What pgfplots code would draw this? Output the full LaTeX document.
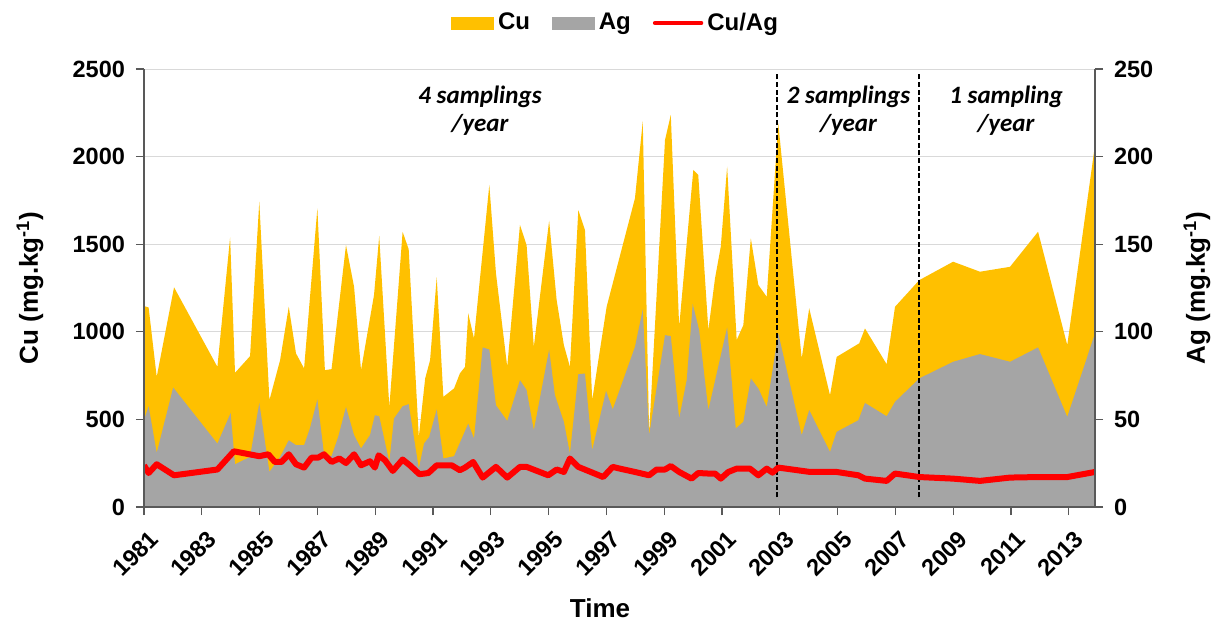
\documentclass[border=0pt]{standalone}
\usepackage{pgfplots}
\pgfplotsset{compat=1.18}
\usepackage{fontspec}
\setmainfont{Liberation Sans}
\newfontfamily\calibri{Carlito}
\definecolor{cuyellow}{HTML}{FFC000}
\definecolor{aggray}{HTML}{A5A5A5}
\definecolor{gridgray}{HTML}{D9D9D9}
\definecolor{axgray}{HTML}{595959}
\definecolor{ratiored}{HTML}{FF0000}

\pgfplotstableread{
year cu
1981.00 1147
1981.16 1139
1981.44 743
1982.04 1254
1983.54 800
1983.98 1539
1984.15 766
1984.67 861
1984.99 1743
1985.34 610
1985.71 838
1986.01 1143
1986.26 877
1986.54 791
1987.00 1705
1987.26 781
1987.49 787
1987.99 1495
1988.27 1257
1988.51 781
1988.96 1210
1989.14 1547
1989.49 571
1989.95 1571
1990.16 1471
1990.51 400
1990.73 734
1990.90 838
1991.13 1311
1991.36 629
1991.73 677
1991.93 762
1992.11 800
1992.22 1105
1992.42 962
1992.95 1838
1993.18 1334
1993.57 800
1994.01 1610
1994.24 1495
1994.49 914
1995.02 1634
1995.28 1181
1995.53 924
1995.74 800
1996.03 1695
1996.26 1581
1996.51 610
1997.01 1143
1997.99 1762
1998.26 2200
1998.48 419
1999.03 2095
1999.23 2238
1999.52 1029
2000.01 1924
2000.18 1895
2000.53 1010
2000.76 1305
2000.96 1486
2001.18 1943
2001.51 953
2001.74 1038
2002.00 1534
2002.26 1267
2002.55 1200
2002.95 2190
2003.76 848
2004.02 1134
2004.74 638
2004.97 857
2005.75 934
2005.95 1019
2006.70 815
2006.99 1143
2007.83 1295
2009.00 1400
2009.93 1343
2010.97 1371
2011.94 1571
2012.95 924
2013.91 2067
}\cutable

\pgfplotstableread{
year ag
1981.00 49.5
1981.16 57.5
1981.44 30.9
1982.01 68.2
1983.54 36.2
1984.00 53.7
1984.15 24.4
1984.67 28.6
1984.99 59.4
1985.34 20.0
1985.71 28.6
1986.01 38.1
1986.26 35.3
1986.54 35.3
1986.74 44.8
1987.00 61.4
1987.23 30.1
1987.49 29.0
1987.72 40.0
1987.99 57.1
1988.27 41.0
1988.51 33.4
1988.82 41.0
1988.99 52.4
1989.14 51.8
1989.49 25.7
1989.65 50.5
1989.95 57.5
1990.16 58.7
1990.51 21.9
1990.69 36.2
1990.87 40.0
1991.13 55.7
1991.36 27.7
1991.73 29.0
1992.22 47.6
1992.42 39.1
1992.72 91.1
1992.95 89.9
1993.18 58.1
1993.57 49.1
1994.01 72.4
1994.24 66.7
1994.49 43.8
1995.02 89.9
1995.22 63.8
1995.53 48.6
1995.74 30.5
1996.03 75.8
1996.26 76.2
1996.51 32.4
1996.99 66.3
1997.22 55.7
1997.99 91.4
1998.26 112.8
1998.48 41.0
1999.03 98.1
1999.23 97.5
1999.52 50.5
1999.78 72.4
1999.99 115.8
2000.21 101.0
2000.53 55.3
2001.18 102.5
2001.48 44.8
2001.74 48.6
2002.00 73.4
2002.26 67.7
2002.55 57.1
2002.95 99.1
2003.76 41.0
2004.02 55.3
2004.74 31.4
2004.97 42.9
2005.72 49.5
2005.95 59.4
2006.70 51.8
2006.99 60.0
2007.83 73.4
2009.00 82.9
2009.93 87.3
2010.97 82.9
2011.94 91.1
2012.95 51.4
2013.91 99.1
}\agtable

\pgfplotstableread{
year ratio
1981.00 23.8
1981.16 19.4
1981.44 24.4
1982.04 18.1
1983.54 21.4
1984.11 31.8
1984.99 29.0
1985.30 30.1
1985.53 25.7
1985.76 25.7
1986.01 30.1
1986.26 24.4
1986.54 22.5
1986.80 28.2
1987.03 28.2
1987.23 30.1
1987.49 25.7
1987.76 27.7
1987.99 25.1
1988.27 30.1
1988.51 23.8
1988.82 26.1
1988.99 22.5
1989.12 29.5
1989.34 26.7
1989.61 20.6
1989.95 27.1
1990.20 23.8
1990.53 18.7
1990.84 19.4
1991.13 23.8
1991.65 23.8
1991.93 21.0
1992.11 22.5
1992.39 25.7
1992.72 16.8
1993.18 22.9
1993.57 16.8
1994.01 22.9
1994.24 22.9
1994.99 18.1
1995.28 21.4
1995.53 20.0
1995.74 27.7
1996.03 22.9
1996.89 17.1
1997.22 22.9
1997.47 21.9
1997.99 20.0
1998.48 18.1
1998.74 21.4
1999.03 21.4
1999.23 23.4
1999.52 20.0
1999.95 16.2
2000.18 19.4
2000.53 19.1
2000.76 19.1
2000.96 16.2
2001.22 20.0
2001.51 21.9
2001.97 21.9
2002.26 18.1
2002.55 21.9
2002.75 19.6
2002.95 22.5
2004.05 20.0
2004.97 20.0
2005.72 18.1
2005.95 16.2
2006.70 14.9
2006.99 19.1
2007.83 17.1
2009.00 16.2
2009.93 14.9
2010.97 16.8
2011.94 17.1
2012.95 17.1
2013.91 20.0
}\ratiotable

\pgfplotsset{
  common/.style={
    scale only axis, width=475.5pt, height=219pt,
    at={(0pt,0pt)}, anchor=south west,
    xmin=1981, xmax=2013.91,
    tick align=outside, major tick length=4pt,
    tick style={axgray, line width=0.6pt},
    axis line style={axgray, line width=0.6pt},
    ticklabel style={font=\fontsize{11.75}{14}\selectfont\bfseries},
    /pgf/number format/assume math mode=true,
    /pgf/number format/1000 sep={},
  }
}

\begin{document}
\begin{tikzpicture}
\useasboundingbox (-72pt,-58pt) rectangle (535.5pt,253.5pt);

\begin{axis}[common,
  axis x line*=bottom, axis y line*=left,
  ymin=0, ymax=2500, ytick={0,500,...,2500},
  xtick={1981,1983,...,2013},
  xticklabel style={rotate=45, anchor=north east, yshift=-3pt},
  yticklabel style={xshift=-2pt},
  ymajorgrids, grid style={gridgray, line width=0.5pt},
]
\addplot[fill=cuyellow, draw=none] table[x=year, y=cu] {\cutable} \closedcycle;
\end{axis}

\begin{axis}[common,
  axis on top,
  axis x line*=bottom, axis y line*=box, ytick pos=right,
  xtick=\empty,
  ymin=0, ymax=250, ytick={0,50,...,250},
  yticklabel style={xshift=2pt},
  legend columns=3,
  legend style={draw=none, fill=none, at={(0.497,1.105)}, anchor=center,
    font=\fontsize{12}{14}\selectfont\bfseries,
    /tikz/every even column/.append style={column sep=9pt}},
]
\addlegendimage{legend image code/.code={\fill[cuyellow] (0pt,-3pt) rectangle (21pt,3pt);}}
\addlegendentry{Cu}
\addlegendimage{legend image code/.code={\fill[aggray] (0pt,-3pt) rectangle (21pt,3pt);}}
\addlegendentry{Ag}
\addlegendimage{legend image code/.code={\draw[ratiored, line width=2.2pt, line cap=round] (0pt,0pt) -- (23pt,0pt);}}
\addlegendentry{Cu/Ag}
\addplot[fill=aggray, draw=none, forget plot] table[x=year, y=ag] {\agtable} \closedcycle;
\addplot[black, line width=1pt, dash pattern=on 2.5pt off 1.3pt, forget plot] coordinates {(2002.92,5.5) (2002.92,247.5)};
\addplot[black, line width=1pt, dash pattern=on 2.5pt off 1.3pt, forget plot] coordinates {(2007.83,5.5) (2007.83,247.5)};
\addplot[ratiored, line width=3pt, line join=round, forget plot] table[x=year, y=ratio] {\ratiotable};
\end{axis}

\node[font=\calibri\bfseries\itshape\fontsize{12.5}{14}\selectfont, align=center] at (168pt,198pt) {4 samplings\\/year};
\node[font=\calibri\bfseries\itshape\fontsize{12.5}{14}\selectfont, align=center] at (352.25pt,198pt) {2 samplings\\/year};
\node[font=\calibri\bfseries\itshape\fontsize{12.5}{14}\selectfont, align=center] at (431pt,198pt) {1 sampling\\/year};

\node[rotate=90, font=\bfseries\fontsize{13}{15}\selectfont] at (-57pt,109.5pt) {Cu (mg.kg\textsuperscript{-1})};
\node[rotate=90, font=\bfseries\fontsize{13}{15}\selectfont] at (526.5pt,109.5pt) {Ag (mg.kg\textsuperscript{-1})};
\node[font=\bfseries\fontsize{13}{15}\selectfont] at (228pt,-50.5pt) {Time};
\end{tikzpicture}
\end{document}
